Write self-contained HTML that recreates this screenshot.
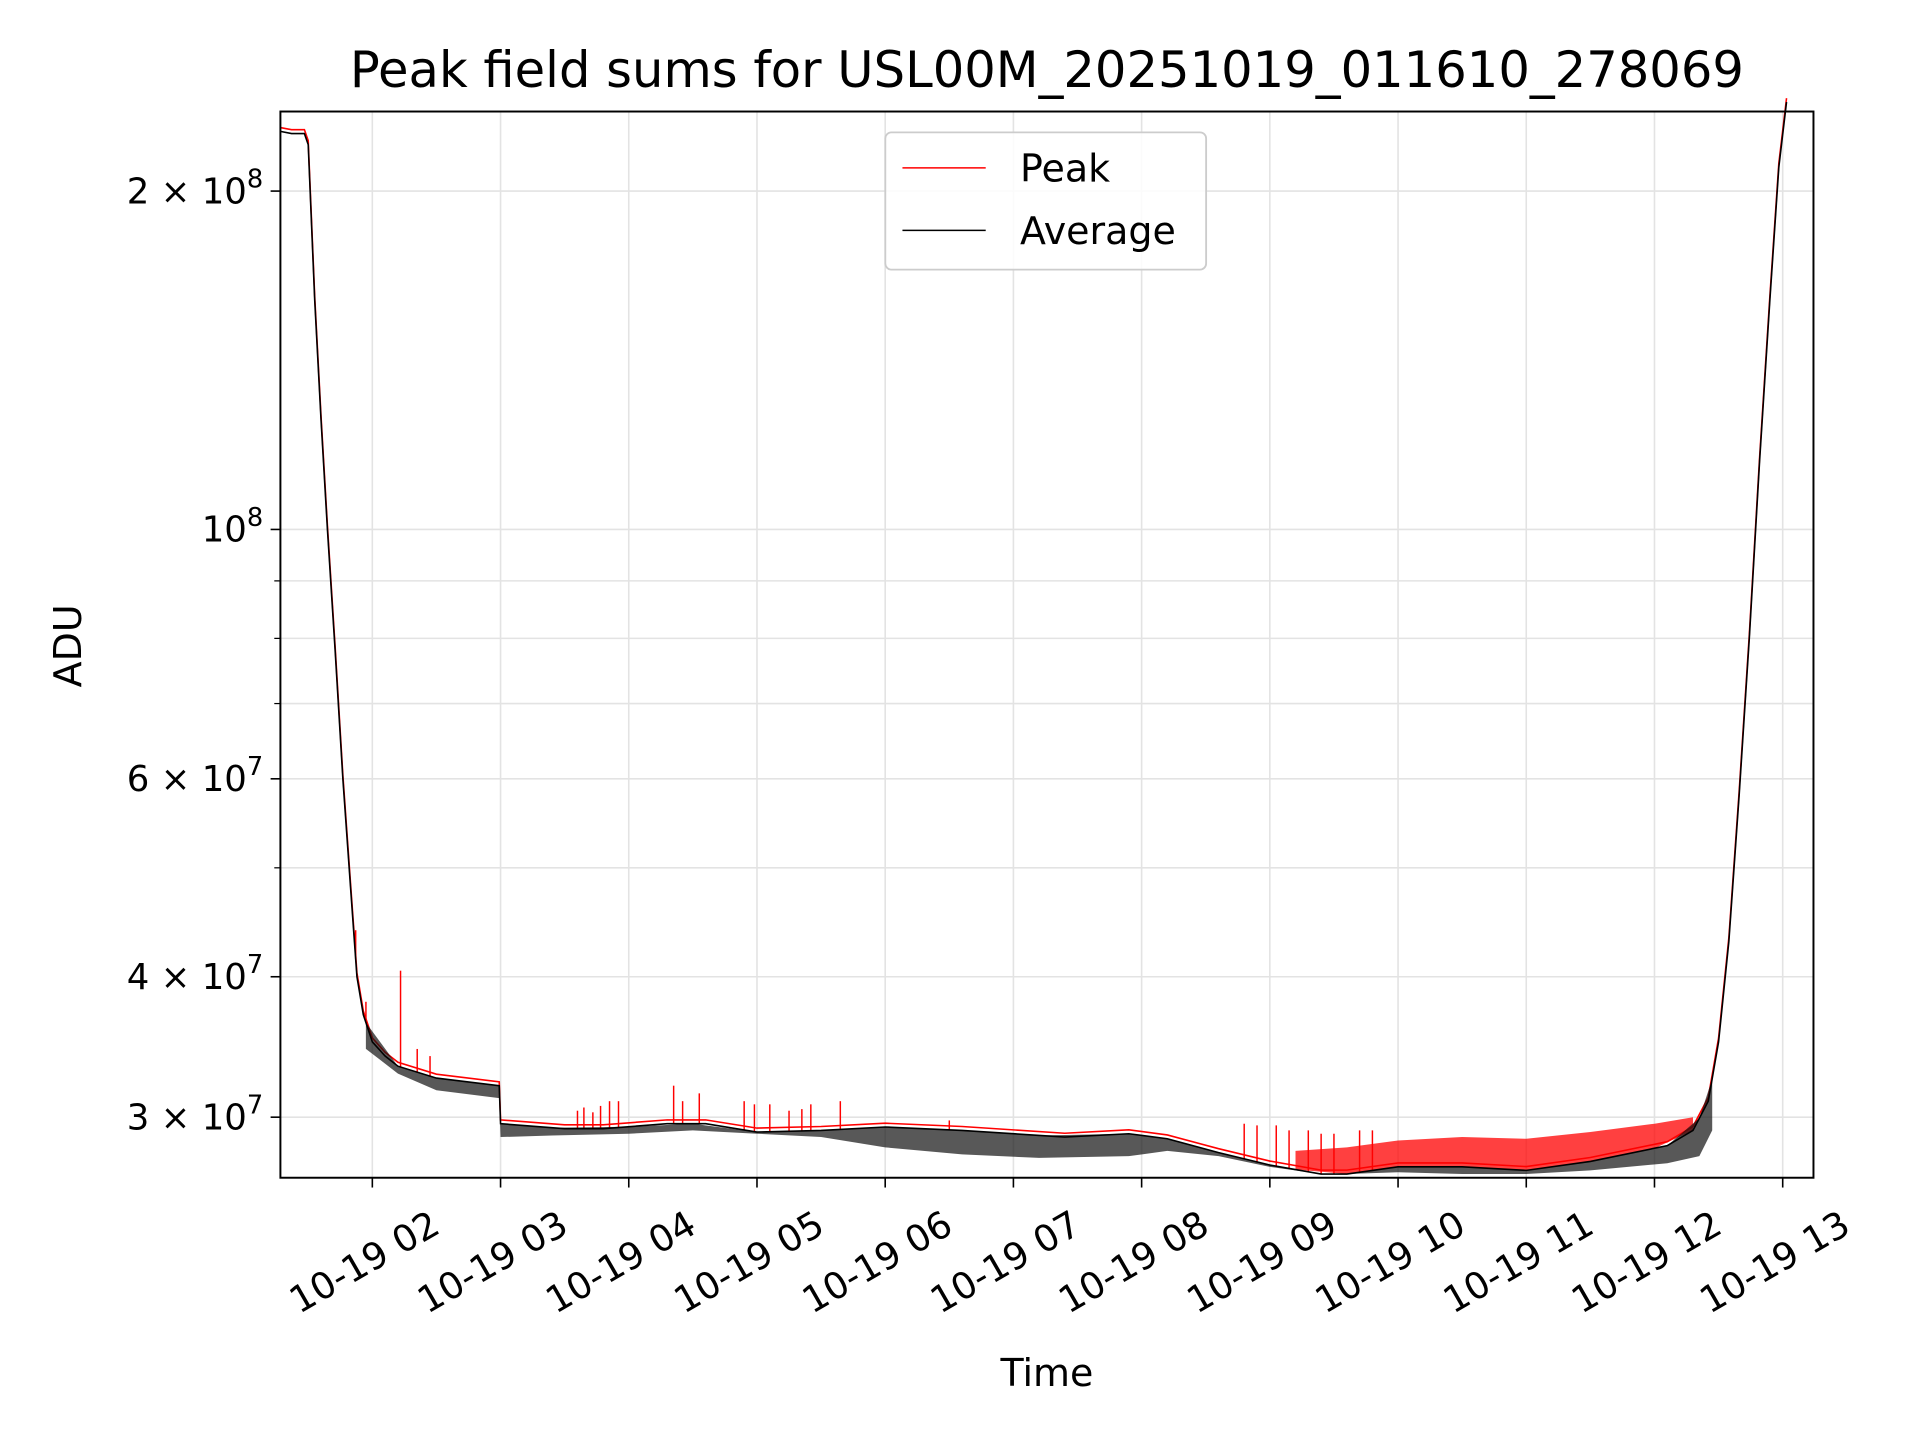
<!DOCTYPE html>
<html><head><meta charset="utf-8"><style>html,body{margin:0;padding:0;background:#fff}svg{display:block}</style></head>
<body>
<svg id="chart" width="1920" height="1440" viewBox="0 0 1568 1175" preserveAspectRatio="none" xmlns="http://www.w3.org/2000/svg" font-family="DejaVu Sans, Liberation Sans, sans-serif">
<rect width="1568" height="1175" fill="#fff"/>
<g id="grid"></g>
<g id="series"></g>
<rect x="229" y="91" width="1252" height="870" fill="none" stroke="#000" stroke-width="1.6"/>
<g id="axes"></g>
<text x="855" y="71" font-size="40.5" text-anchor="middle">Peak field sums for USL00M_20251019_011610_278069</text>
<text x="855" y="1131" font-size="31" text-anchor="middle">Time</text>
<text x="0" y="0" font-size="31" text-anchor="middle" transform="translate(66,527) rotate(-90)">ADU</text>
<g>
<rect x="723" y="108" width="262" height="112" rx="5" fill="#fff" fill-opacity="0.85" stroke="#ccc" stroke-width="1.5"/>
<line x1="737" y1="137" x2="805" y2="137" stroke="red" stroke-width="1.2"/>
<text x="833" y="148" font-size="31">Peak</text>
<line x1="737" y1="188" x2="805" y2="188" stroke="#000" stroke-width="1.2"/>
<text x="833" y="199" font-size="31">Average</text>
</g>
</svg>
<script>
const xTickHours=[2,3,4,5,6,7,8,9,10,11,12,13];
const xTickLabels=["10-19 02","10-19 03","10-19 04","10-19 05","10-19 06","10-19 07","10-19 08","10-19 09","10-19 10","10-19 11","10-19 12","10-19 13"];
const yMajor=[2e8,1e8,6e7,4e7,3e7];
const yMajorMant=["2","","6","4","3"];
const yMajorExp=["8","8","7","7","7"];
const yMinor=[5e7,7e7,8e7,9e7];
const avgT=[1.283,1.37,1.47,1.50,1.55,1.60,1.65,1.71,1.77,1.83,1.88,1.93,2.0,2.1,2.2,2.5,2.99,3.0,3.5,3.8,4.3,4.6,5.0,5.5,6.0,6.6,7.4,7.9,8.2,8.6,9.0,9.4,9.6,10.0,10.5,11.0,11.5,12.1,12.3,12.42,12.5,12.58,12.66,12.74,12.82,12.9,12.97,13.03];
const avgV=[2.26e8,2.25e8,2.25e8,2.2e8,1.6e8,1.25e8,1.0e8,7.8e7,6.0e7,4.8e7,4.0e7,3.7e7,3.5e7,3.4e7,3.33e7,3.25e7,3.2e7,2.96e7,2.93e7,2.93e7,2.96e7,2.96e7,2.91e7,2.92e7,2.94e7,2.92e7,2.88e7,2.9e7,2.87e7,2.79e7,2.72e7,2.67e7,2.67e7,2.71e7,2.71e7,2.69e7,2.74e7,2.83e7,2.92e7,3.1e7,3.5e7,4.3e7,5.8e7,8.0e7,1.15e8,1.6e8,2.1e8,2.4e8];
const lowT=[1.95,2.2,2.5,2.99,3.0,3.4,4.0,4.5,5.0,5.5,6.0,6.6,7.2,7.9,8.2,8.6,9.0,9.4,9.6,10.0,10.5,11.0,11.5,12.1,12.35,12.45];
const lowV=[3.45e7,3.28e7,3.17e7,3.12e7,2.88e7,2.89e7,2.9e7,2.92e7,2.9e7,2.88e7,2.82e7,2.78e7,2.76e7,2.77e7,2.8e7,2.77e7,2.71e7,2.67e7,2.67e7,2.68e7,2.67e7,2.67e7,2.69e7,2.73e7,2.77e7,2.92e7];
const peakUpT=[9.2,9.6,10.0,10.5,11.0,11.5,12.0,12.3];
const peakUpV=[2.8e7,2.82e7,2.86e7,2.88e7,2.87e7,2.91e7,2.96e7,3.0e7];
const spikeT=[1.87,1.95,2.22,2.35,2.45,3.6,3.65,3.72,3.78,3.85,3.92,4.35,4.42,4.55,4.9,4.98,5.1,5.25,5.35,5.42,5.65,6.5,8.8,8.9,9.05,9.15,9.3,9.4,9.5,9.7,9.8];
const spikeV=[4.4e7,3.8e7,4.05e7,3.45e7,3.4e7,3.04e7,3.06e7,3.03e7,3.07e7,3.1e7,3.1e7,3.2e7,3.1e7,3.15e7,3.1e7,3.08e7,3.08e7,3.04e7,3.05e7,3.08e7,3.1e7,2.98e7,2.96e7,2.95e7,2.95e7,2.92e7,2.92e7,2.9e7,2.9e7,2.92e7,2.92e7];
const NS="http://www.w3.org/2000/svg";
const X0=229,X1=1481,Y0=91,Y1=961,T0=1.283,T1=13.24;
const LMAX=Math.log10(2.354e8),LMIN=Math.log10(2.65e7);
function xs(t){return X0+(t-T0)/(T1-T0)*(X1-X0);}
function ys(v){return Y0+(LMAX-Math.log10(v))/(LMAX-LMIN)*(Y1-Y0);}
function mk(tag,attrs,parent){const e=document.createElementNS(NS,tag);for(const k in attrs)e.setAttribute(k,attrs[k]);parent.appendChild(e);return e;}
function interp(t){for(let i=1;i<avgT.length;i++){if(t<=avgT[i]){const f=(t-avgT[i-1])/(avgT[i]-avgT[i-1]);return Math.pow(10,Math.log10(avgV[i-1])+f*(Math.log10(avgV[i])-Math.log10(avgV[i-1])));}}return avgV[avgV.length-1];}
const grid=document.getElementById('grid'),axes=document.getElementById('axes'),ser=document.getElementById('series');
xTickHours.forEach((h,i)=>{const x=xs(h);
 const g=mk('line',{x1:x,x2:x,y1:Y0,y2:Y1,stroke:'#e3e3e3','stroke-width':1.3},grid);
 
 
 const t=mk('line',{x1:x,x2:x,y1:Y1,y2:Y1+8,stroke:'#000','stroke-width':1.3},axes);
 
 
 const l=mk('text',{'font-size':30,'text-anchor':'end',transform:`translate(${x+57},${1005}) rotate(-30)`},axes);
 l.textContent=xTickLabels[i];
 
 
});
yMinor.forEach(v=>{const y=ys(v);
 const g=mk('line',{x1:X0,x2:X1,y1:y,y2:y,stroke:'#e3e3e3','stroke-width':1.3},grid);
 
 
 const t=mk('line',{x1:X0-5,x2:X0,y1:y,y2:y,stroke:'#000','stroke-width':1},axes);
 
 
});
yMajor.forEach((v,i)=>{const y=ys(v);
 const g=mk('line',{x1:X0,x2:X1,y1:y,y2:y,stroke:'#e3e3e3','stroke-width':1.3},grid);
 
 
 const t=mk('line',{x1:X0-8,x2:X0,y1:y,y2:y,stroke:'#000','stroke-width':1.3},axes);
 
 
 const l=mk('text',{x:X0-14,y:y+10,'font-size':29,'text-anchor':'end'},axes);
 l.innerHTML=(yMajorMant[i]?yMajorMant[i]+' \u00d7 ':'')+'10<tspan font-size="21" dy="-13">'+yMajorExp[i]+'</tspan>';
 
 
});
function pts(T,V){return T.map((t,i)=>xs(t).toFixed(1)+','+ys(V[i]).toFixed(1));}
const pu=[...pts(peakUpT,peakUpV),...pts(peakUpT.slice().reverse(),peakUpT.slice().reverse().map(interp))];
const pb=mk('polygon',{points:pu.join(' '),fill:'red','fill-opacity':0.75},ser);


spikeT.forEach((t,i)=>{const x=xs(t);
 const s=mk('line',{x1:x,x2:x,y1:ys(spikeV[i]),y2:ys(interp(t)),stroke:'red','stroke-width':1.2},ser);
 
 
});
const pk=mk('polyline',{points:pts(avgT,avgV.map(v=>v*1.008)).join(' '),fill:'none',stroke:'red','stroke-width':1.3},ser);


const lb=[...pts(lowT,lowV),...pts(lowT.slice().reverse(),lowT.slice().reverse().map(interp))];
const ab=mk('polygon',{points:lb.join(' '),fill:'#111','fill-opacity':0.7},ser);


const av=mk('polyline',{points:pts(avgT,avgV).join(' '),fill:'none',stroke:'#000','stroke-width':1.3},ser);


</script>
</body></html>
